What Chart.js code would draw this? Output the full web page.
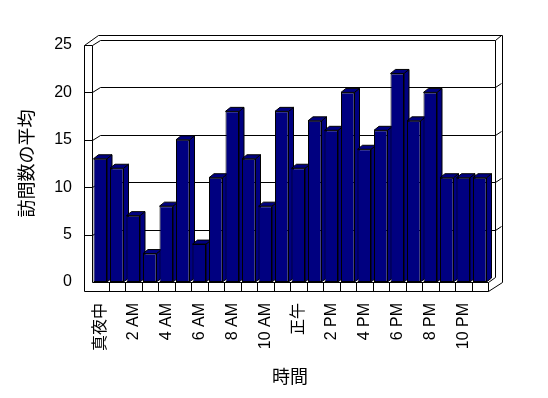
<!DOCTYPE html>
<html><head><meta charset="utf-8">
<script src="https://cdn.jsdelivr.net/npm/chart.js@4.4.0/dist/chart.umd.min.js"></script>
<style>html,body{margin:0;padding:0;background:#fff}</style>
</head><body>
<canvas id="c" width="548" height="398"></canvas>
<script>
const categories = ["真夜中","1 AM","2 AM","3 AM","4 AM","5 AM","6 AM","7 AM","8 AM","9 AM","10 AM","11 AM",
  "正午","1 PM","2 PM","3 PM","4 PM","5 PM","6 PM","7 PM","8 PM","9 PM","10 PM","11 PM"];
const visits = [13,12,7,3,8,15,4,11,18,13,8,18,12,17,16,20,14,16,22,17,20,11,11,11];
const yTicks = [0,5,10,15,20,25];
const yTitle = "訪問数の平均";
const xTitle = "時間";

const FONT = "'Liberation Sans', 'Noto Sans CJK JP', sans-serif";
const NAVY = "#000080";

function ln(ctx, x1, y1, x2, y2) {
  ctx.beginPath();
  ctx.moveTo(Math.round(x1) + 0.5, Math.round(y1) + 0.5);
  ctx.lineTo(Math.round(x2) + 0.5, Math.round(y2) + 0.5);
  ctx.stroke();
}

const box3d = {
  id: 'box3d',
  beforeDatasetsDraw(chart) {
    const {ctx, chartArea: a, scales: {x, y}} = chart;
    const L = a.left, R = a.right, T = a.top, B = a.bottom;
    ctx.save();
    ctx.strokeStyle = '#000';
    ctx.lineWidth = 1;
    // back wall frame
    ln(ctx, L - 8, T, L + 6, T - 10);
    ln(ctx, L, T, L + 8, T - 5);
    ln(ctx, L + 6, T - 10, R + 14, T - 10);
    ln(ctx, L + 8, T - 5, R + 7, T - 5);
    ln(ctx, R + 7, T - 5, R + 13, T - 10);
    ln(ctx, R + 14, T - 10, R + 14, B);
    ln(ctx, R + 7, T - 5, R + 7, B - 5);
    // left wall
    ln(ctx, L - 8, T, L, T);
    ln(ctx, L - 8, T, L - 8, B + 9);
    ln(ctx, L, T, L, B);
    // gridlines
    yTicks.forEach(v => {
      if (v === yTicks[0] || v === yTicks[yTicks.length - 1]) return;
      const yy = y.getPixelForValue(v);
      ln(ctx, L - 8, yy, L, yy);
      ln(ctx, L, yy, L + 8, yy - 5);
      ln(ctx, L + 8, yy - 5, R + 7, yy - 5);
      ln(ctx, R + 7, yy - 5, R + 13, yy - 9);
    });
    // floor
    ln(ctx, L - 8, B + 9, R, B + 9);
    ln(ctx, L, B, R, B);
    ln(ctx, R, B, R, B + 9);
    ln(ctx, R, B, R + 7, B - 5);
    ln(ctx, R, B + 9, R + 14, B);
    for (let i = 1; i < categories.length; i++) {
      const xb = (x.getPixelForValue(i - 1) + x.getPixelForValue(i)) / 2;
      ln(ctx, xb, B, xb, B + 9);
    }
    // 3D faces of bars
    const meta = chart.getDatasetMeta(0);
    const dx = 5, dy = -4;
    meta.data.forEach(bar => {
      const p = bar.getProps(['x', 'y', 'base', 'width'], true);
      const l = p.x - p.width / 2, r = p.x + p.width / 2, t = p.y, b = p.base;
      // side
      ctx.beginPath();
      ctx.moveTo(r, t); ctx.lineTo(r + dx, t + dy); ctx.lineTo(r + dx, b + dy); ctx.lineTo(r, b); ctx.closePath();
      ctx.fillStyle = NAVY; ctx.fill(); ctx.stroke();
      // top
      ctx.beginPath();
      ctx.moveTo(l, t); ctx.lineTo(l + dx, t + dy); ctx.lineTo(r + dx, t + dy); ctx.lineTo(r, t); ctx.closePath();
      ctx.fillStyle = NAVY; ctx.fill(); ctx.stroke();
    });
    ctx.restore();
  }
};

new Chart(document.getElementById('c'), {
  type: 'bar',
  data: {
    labels: categories,
    datasets: [{
      data: visits,
      backgroundColor: NAVY,
      borderColor: '#000',
      borderWidth: 1,
      borderSkipped: false,
      categoryPercentage: 1,
      barPercentage: 0.82
    }]
  },
  options: {
    responsive: false,
    animation: false,
    layout: {padding: {top: 45, right: 60, left: 0, bottom: 0}},
    plugins: {legend: {display: false}, tooltip: {enabled: false}},
    scales: {
      x: {
        grid: {display: false, drawTicks: false},
        border: {display: false},
        ticks: {
          autoSkip: false, maxRotation: 90, minRotation: 90, padding: 21,
          color: '#000', font: {family: FONT, size: 16},
          callback: (v, i) => (i % 2 === 0 ? categories[i] : '')
        },
        title: {display: true, text: xTitle, color: '#000', font: {family: FONT, size: 18}, padding: {top: 0, bottom: 9}},
        afterFit: s => { s.height = 116; }
      },
      y: {
        min: 0, max: 25,
        grid: {display: false, drawTicks: false},
        border: {display: false},
        ticks: {stepSize: 5, padding: 20, color: '#000', font: {family: FONT, size: 16}},
        title: {display: true, text: yTitle, color: '#000', font: {family: FONT, size: 18}, padding: {top: 17, bottom: 0}},
        afterFit: s => { s.width = 92; }
      }
    }
  },
  plugins: [box3d]
});
</script>
</body></html>
